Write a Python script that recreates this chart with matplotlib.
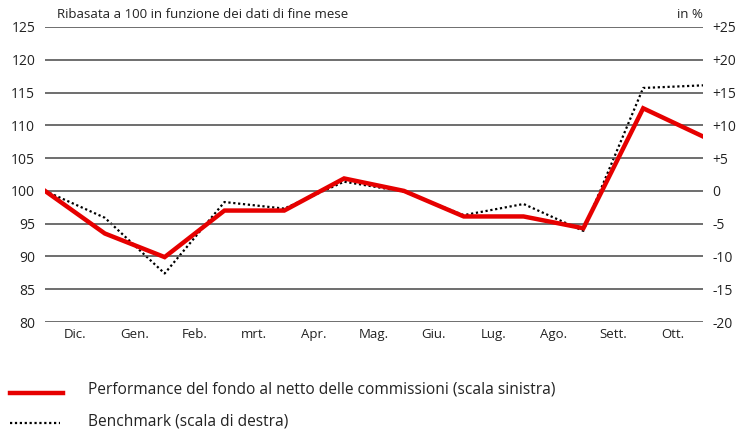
import numpy as np
import matplotlib.pyplot as plt
from matplotlib.lines import Line2D

plt.rcParams['font.family'] = ['Open Sans', 'DejaVu Sans']

# month labels (placed between month-end points)
months = ['Dic.', 'Gen.', 'Feb.', 'mrt.', 'Apr.', 'Mag.', 'Giu.', 'Lug.', 'Ago.', 'Sett.', 'Ott.']

# fund, rebased to 100 (left scale)
fund = [100, 93.5, 89.9, 97.0, 97.0, 101.9, 100.0, 96.1, 96.1, 94.3, 112.6, 108.3]
# benchmark in % (right scale)
bench = [0, -4.1, -12.6, -1.7, -2.7, 1.4, -0.1, -3.7, -2.0, -6.1, 15.7, 16.1]

left_ticks = [80, 85, 90, 95, 100, 105, 110, 115, 120, 125]
right_ticks = [-20, -15, -10, -5, 0, 5, 10, 15, 20, 25]
right_labels = ['-20', '-15', '-10', '-5', '0', '+5', '+10', '+15', '+20', '+25']

fig = plt.figure(figsize=(7.48, 4.32), dpi=100)
ax = fig.add_axes([45 / 748, 1 - 322 / 432, 658 / 748, 295 / 432])
ax2 = ax.twinx()

x = np.arange(len(fund))
ax.set_xlim(0, len(fund) - 1)
ax.set_ylim(80, 125)
ax2.set_ylim(-20, 25)

for t in left_ticks:
    ax.axhline(t, color='#555555', lw=1.2, zorder=1)

ax2.plot(x, bench, color='black', lw=1.6, linestyle=(0, (1, 1.2)), zorder=3)
ax.plot(x, fund, color='#e60000', lw=3.2, zorder=4, solid_joinstyle='miter')
ax.set_zorder(ax2.get_zorder() + 1)
ax.patch.set_visible(False)

ax.set_yticks(left_ticks)
ax.set_yticklabels([str(t) for t in left_ticks])
ax2.set_yticks(right_ticks)
ax2.set_yticklabels(right_labels)
ax.set_xticks(x[:-1] + 0.5)
ax.set_xticklabels(months)

for a in (ax, ax2):
    for s in a.spines.values():
        s.set_visible(False)
    a.tick_params(length=0, labelsize=10, colors='#222222')
ax.tick_params(axis='y', pad=7)
ax2.tick_params(axis='y', pad=7)
ax.tick_params(axis='x', pad=4, labelsize=9.5)

fig.text(57 / 748, 1 - 14 / 432, 'Ribasata a 100 in funzione dei dati di fine mese',
         fontsize=9.5, color='#222222', va='center')
fig.text(703 / 748, 1 - 14 / 432, 'in %', fontsize=9.5, color='#222222',
         va='center', ha='right')

# legend
fig.add_artist(Line2D([10 / 748, 63 / 748], [1 - 393 / 432] * 2, color='#e60000', lw=3.2))
fig.add_artist(Line2D([10 / 748, 60 / 748], [1 - 423 / 432] * 2, color='black', lw=1.6,
                      linestyle=(0, (1, 1.2))))
fig.text(88 / 748, 1 - 389 / 432, 'Performance del fondo al netto delle commissioni (scala sinistra)',
         fontsize=11.2, color='#222222', va='center')
fig.text(88 / 748, 1 - 421 / 432, 'Benchmark (scala di destra)',
         fontsize=11.2, color='#222222', va='center')

fig.savefig('out.png', dpi=100)
